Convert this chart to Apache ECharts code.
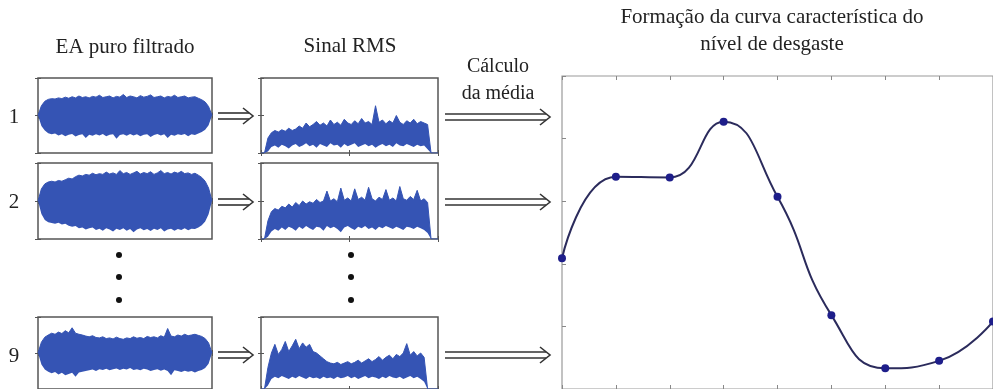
<!DOCTYPE html>
<html>
<head>
<meta charset="utf-8">
<script src="https://cdn.jsdelivr.net/npm/echarts@6/dist/echarts.min.js"></script>
<style>
  html, body { margin: 0; padding: 0; background: #fff; }
  #chart { width: 993px; height: 389px; }
</style>
</head>
<body>
<div id="chart"></div>
<script>
// EA puro filtrado: envelope superior/inferior (amplitude relativa, meia caixa = 1)
const eaTop1 = [0, 0.26, 0.38, 0.43, 0.45, 0.44, 0.47, 0.45, 0.49, 0.46, 0.5, 0.47, 0.52, 0.48, 0.5, 0.47, 0.51, 0.49, 0.54, 0.48, 0.5, 0.52, 0.47, 0.51, 0.49, 0.56, 0.48, 0.52, 0.5, 0.47, 0.53, 0.49, 0.51, 0.55, 0.48, 0.5, 0.52, 0.47, 0.51, 0.49, 0.54, 0.48, 0.5, 0.52, 0.47, 0.49, 0.5, 0.46, 0.42, 0.36, 0.24, 0];
const eaBot1 = [0, -0.28, -0.4, -0.47, -0.5, -0.48, -0.53, -0.5, -0.55, -0.51, -0.49, -0.56, -0.52, -0.5, -0.6, -0.51, -0.54, -0.5, -0.53, -0.49, -0.55, -0.51, -0.5, -0.62, -0.52, -0.5, -0.54, -0.49, -0.53, -0.5, -0.55, -0.51, -0.5, -0.57, -0.52, -0.49, -0.53, -0.5, -0.6, -0.51, -0.54, -0.5, -0.52, -0.49, -0.55, -0.5, -0.52, -0.48, -0.44, -0.38, -0.26, 0];
const eaTop2 = [0, 0.32, 0.45, 0.5, 0.52, 0.5, 0.54, 0.52, 0.56, 0.6, 0.58, 0.64, 0.68, 0.66, 0.7, 0.68, 0.73, 0.69, 0.72, 0.7, 0.76, 0.71, 0.74, 0.7, 0.8, 0.72, 0.75, 0.7, 0.74, 0.78, 0.71, 0.75, 0.72, 0.77, 0.7, 0.74, 0.8, 0.72, 0.75, 0.71, 0.76, 0.73, 0.78, 0.72, 0.74, 0.7, 0.73, 0.68, 0.62, 0.52, 0.34, 0];
const eaBot2 = [0, -0.34, -0.5, -0.56, -0.58, -0.6, -0.57, -0.62, -0.6, -0.65, -0.68, -0.66, -0.72, -0.7, -0.75, -0.72, -0.7, -0.76, -0.73, -0.78, -0.72, -0.75, -0.8, -0.73, -0.76, -0.72, -0.78, -0.74, -0.82, -0.75, -0.72, -0.77, -0.74, -0.79, -0.73, -0.76, -0.72, -0.8, -0.75, -0.73, -0.78, -0.74, -0.76, -0.72, -0.77, -0.73, -0.74, -0.7, -0.64, -0.54, -0.35, 0];
const eaTop9 = [0, 0.3, 0.44, 0.5, 0.55, 0.52, 0.58, 0.54, 0.62, 0.56, 0.7, 0.55, 0.52, 0.5, 0.47, 0.45, 0.48, 0.43, 0.42, 0.45, 0.4, 0.42, 0.39, 0.44, 0.4, 0.38, 0.42, 0.4, 0.45, 0.41, 0.43, 0.4, 0.46, 0.43, 0.45, 0.42, 0.48, 0.44, 0.68, 0.47, 0.45, 0.5, 0.47, 0.52, 0.48, 0.5, 0.52, 0.49, 0.46, 0.4, 0.28, 0];
const eaBot9 = [0, -0.32, -0.46, -0.52, -0.56, -0.53, -0.6, -0.55, -0.62, -0.58, -0.55, -0.66, -0.54, -0.52, -0.5, -0.48, -0.46, -0.5, -0.45, -0.47, -0.44, -0.48, -0.45, -0.43, -0.47, -0.44, -0.46, -0.42, -0.47, -0.45, -0.48, -0.44, -0.46, -0.5, -0.47, -0.45, -0.49, -0.46, -0.5, -0.62, -0.48, -0.5, -0.53, -0.49, -0.52, -0.5, -0.54, -0.5, -0.47, -0.42, -0.3, 0];

// Sinal RMS: borda inferior e superior da faixa (0..1)
const rmsHigh1 = [0, 0, 0.2, 0.27, 0.3, 0.28, 0.31, 0.29, 0.33, 0.3, 0.32, 0.36, 0.33, 0.4, 0.35, 0.38, 0.42, 0.37, 0.4, 0.36, 0.44, 0.38, 0.41, 0.37, 0.45, 0.4, 0.38, 0.43, 0.39, 0.46, 0.4, 0.42, 0.38, 0.63, 0.41, 0.44, 0.39, 0.43, 0.4, 0.5, 0.41, 0.38, 0.43, 0.4, 0.45, 0.39, 0.42, 0.4, 0.38, 0, 0, 0];
const rmsLow1 = [0, 0, 0.02, 0.08, 0.1, 0.07, 0.11, 0.09, 0.06, 0.1, 0.12, 0.08, 0.1, 0.13, 0.09, 0.11, 0.07, 0.12, 0.1, 0.08, 0.13, 0.1, 0.11, 0.07, 0.12, 0.09, 0.11, 0.13, 0.08, 0.1, 0.12, 0.09, 0.11, 0.07, 0.1, 0.12, 0.09, 0.11, 0.08, 0.13, 0.1, 0.09, 0.12, 0.1, 0.08, 0.11, 0.09, 0.1, 0.05, 0, 0, 0];
const rmsHigh2 = [0, 0, 0.24, 0.36, 0.4, 0.38, 0.43, 0.41, 0.46, 0.42, 0.48, 0.44, 0.5, 0.46, 0.49, 0.47, 0.52, 0.48, 0.5, 0.63, 0.5, 0.53, 0.49, 0.67, 0.51, 0.54, 0.5, 0.66, 0.52, 0.55, 0.51, 0.68, 0.53, 0.5, 0.55, 0.52, 0.65, 0.51, 0.54, 0.5, 0.69, 0.53, 0.51, 0.56, 0.52, 0.64, 0.5, 0.53, 0.48, 0, 0, 0];
const rmsLow2 = [0, 0, 0.03, 0.1, 0.13, 0.11, 0.15, 0.12, 0.16, 0.14, 0.11, 0.16, 0.13, 0.17, 0.14, 0.12, 0.16, 0.15, 0.11, 0.17, 0.14, 0.16, 0.13, 0.09, 0.15, 0.17, 0.14, 0.12, 0.16, 0.14, 0.17, 0.13, 0.15, 0.12, 0.16, 0.14, 0.17, 0.15, 0.13, 0.16, 0.14, 0.12, 0.16, 0.15, 0.13, 0.16, 0.14, 0.12, 0.08, 0, 0, 0];
const rmsHigh9 = [0, 0, 0.3, 0.5, 0.62, 0.48, 0.55, 0.66, 0.52, 0.6, 0.69, 0.56, 0.64, 0.58, 0.62, 0.52, 0.5, 0.46, 0.42, 0.38, 0.36, 0.35, 0.37, 0.34, 0.36, 0.38, 0.35, 0.37, 0.4, 0.36, 0.39, 0.42, 0.38, 0.41, 0.45, 0.4, 0.44, 0.47, 0.42, 0.48, 0.45, 0.5, 0.63, 0.47, 0.52, 0.46, 0.5, 0.44, 0, 0, 0, 0];
const rmsLow9 = [0, 0, 0.05, 0.14, 0.17, 0.15, 0.18, 0.16, 0.14, 0.17, 0.15, 0.18, 0.16, 0.14, 0.17, 0.15, 0.16, 0.14, 0.17, 0.15, 0.16, 0.14, 0.17, 0.15, 0.16, 0.18, 0.15, 0.17, 0.14, 0.16, 0.18, 0.15, 0.17, 0.16, 0.14, 0.17, 0.15, 0.18, 0.16, 0.15, 0.17, 0.14, 0.16, 0.18, 0.15, 0.17, 0.14, 0.1, 0, 0, 0, 0];

// curva característica do nível de desgaste
const ensaios = [1, 2, 3, 4, 5, 6, 7, 8, 9];
const nivelDesgaste = [2.09, 3.39, 3.38, 4.27, 3.07, 1.18, 0.33, 0.45, 1.08];

const azul = '#3554b4';
const serif = 'Liberation Serif';

const linhas = [
    { top: 78, height: 75, ea: [eaBot1, eaTop1], rms: [rmsLow1, rmsHigh1] },
    { top: 163, height: 76, ea: [eaBot2, eaTop2], rms: [rmsLow2, rmsHigh2] },
    { top: 317, height: 75, ea: [eaBot9, eaTop9], rms: [rmsLow9, rmsHigh9] }
];

const grids = [], xAxes = [], yAxes = [], series = [];

function addPanel(left, width, top, height, ymin, ymax, n) {
    const g = grids.length;
    grids.push({ left: left, top: top, width: width, height: height, show: true, borderColor: '#555', borderWidth: 1.5, backgroundColor: '#fff' });
    const tick = { show: true, inside: true, length: 3, lineStyle: { color: '#555' } };
    ['bottom', 'top'].forEach(pos => {
        xAxes.push({ gridIndex: g, type: 'value', min: 0, max: 1, interval: 0.5, position: pos,
            axisLine: { show: false }, axisTick: tick, axisLabel: { show: false }, splitLine: { show: false } });
    });
    // eixo de categorias (oculto) para os dados
    xAxes.push({ gridIndex: g, type: 'category', show: false, boundaryGap: false,
        data: Array.from({ length: n }, (_, i) => i) });
    ['left', 'right'].forEach(pos => {
        yAxes.push({ gridIndex: g, type: 'value', min: ymin, max: ymax, interval: (ymax - ymin) / 2, position: pos,
            axisLine: { show: false }, axisTick: tick, axisLabel: { show: false }, splitLine: { show: false } });
    });
    return { x: xAxes.length - 1, y: yAxes.length - 2 };
}

function addBand(ax, low, high, nome) {
    series.push({ type: 'line', xAxisIndex: ax.x, yAxisIndex: ax.y, stack: nome, stackStrategy: 'all',
        data: low, symbol: 'none', lineStyle: { width: 0, opacity: 0 }, silent: true });
    series.push({ type: 'line', xAxisIndex: ax.x, yAxisIndex: ax.y, stack: nome, stackStrategy: 'all',
        data: high.map((v, i) => +(v - low[i]).toFixed(3)), symbol: 'none',
        lineStyle: { color: azul, width: 1 }, areaStyle: { color: azul, opacity: 1 }, silent: true });
}

linhas.forEach((ln, k) => {
    const a = addPanel(38, 174, ln.top, ln.height, -1, 1, ln.ea[0].length);
    addBand(a, ln.ea[0], ln.ea[1], 'ea' + k);
    const b = addPanel(261, 177, ln.top, ln.height, 0, 1, ln.rms[0].length);
    addBand(b, ln.rms[0], ln.rms[1], 'rms' + k);
});

// gráfico principal
const gm = grids.length;
grids.push({ left: 562, top: 76, width: 442, height: 314, show: true, borderColor: '#9a9a9a', borderWidth: 1.2 });
const tickM = { show: true, inside: true, length: 4, lineStyle: { color: '#888' } };
['bottom', 'top'].forEach(pos => {
    xAxes.push({ gridIndex: gm, type: 'value', min: 1, max: 9, interval: 1, position: pos,
        axisLine: { show: false }, axisTick: tickM, axisLabel: { show: false }, splitLine: { show: false } });
});
yAxes.push({ gridIndex: gm, type: 'value', min: 0, max: 5, interval: 1,
    axisLine: { show: false }, axisTick: tickM, axisLabel: { show: false }, splitLine: { show: false } });
series.push({
    type: 'line', xAxisIndex: xAxes.length - 2, yAxisIndex: yAxes.length - 1,
    data: ensaios.map((e, i) => [e, nivelDesgaste[i]]),
    smooth: 0.5, symbol: 'circle', symbolSize: 8,
    lineStyle: { color: '#2b2b5c', width: 2 },
    itemStyle: { color: '#1e1e8a' }, silent: true
});

// setas ⇒
function seta(x0, x1, y) {
    const st = { stroke: '#333', lineWidth: 1.6, fill: null };
    return {
        type: 'group', children: [
            { type: 'line', shape: { x1: x0, y1: y - 3, x2: x1 - 4, y2: y - 3 }, style: st },
            { type: 'line', shape: { x1: x0, y1: y + 3, x2: x1 - 4, y2: y + 3 }, style: st },
            { type: 'polyline', shape: { points: [[x1 - 10, y - 8], [x1, y], [x1 - 10, y + 8]] }, style: st }
        ]
    };
}

const texto = (x, y, t, size) => ({
    type: 'text', x: x, y: y,
    style: { text: t, fontFamily: serif, fontSize: size, fill: '#222', textAlign: 'center', textVerticalAlign: 'middle', lineHeight: 27 }
});

const graficos = [
    texto(125, 47, 'EA puro filtrado', 21),
    texto(350, 46, 'Sinal RMS', 21),
    texto(498, 80, 'Cálculo\nda média', 20),
    texto(772, 31, 'Formação da curva característica do\nnível de desgaste', 21),
    texto(14, 117, '1', 21),
    texto(14, 202, '2', 21),
    texto(14, 356, '9', 21),
    seta(218, 253, 116), seta(218, 253, 202), seta(218, 253, 355),
    seta(445, 550, 117), seta(445, 550, 202), seta(445, 550, 355)
];
[255, 277, 300].forEach(y => {
    graficos.push({ type: 'circle', shape: { cx: 119, cy: y, r: 3 }, style: { fill: '#111' } });
    graficos.push({ type: 'circle', shape: { cx: 351, cy: y, r: 3 }, style: { fill: '#111' } });
});

const chart = echarts.init(document.getElementById('chart'));
chart.setOption({
    backgroundColor: '#fff',
    animation: false,
    grid: grids,
    xAxis: xAxes,
    yAxis: yAxes,
    series: series,
    graphic: graficos
});
</script>
</body>
</html>
